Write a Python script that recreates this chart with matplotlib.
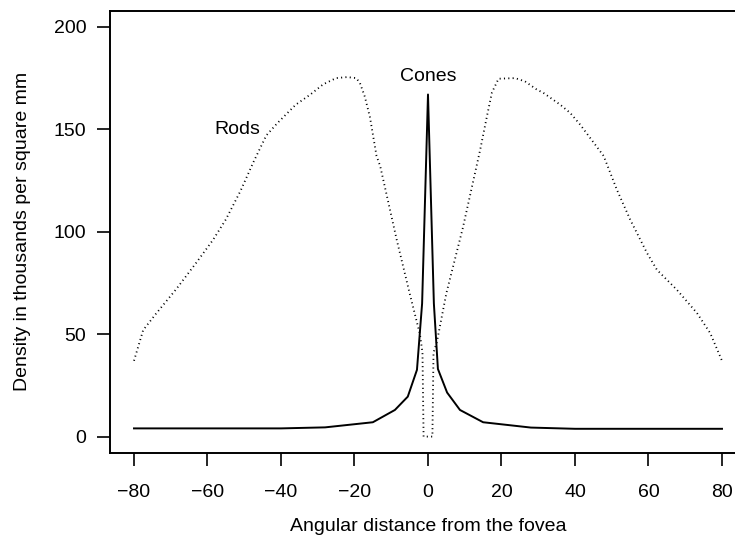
import numpy as np
import matplotlib
matplotlib.use("Agg")
import matplotlib.pyplot as plt

plt.rcParams['font.family'] = ['Liberation Sans', 'DejaVu Sans']

# rod density (thousands per square mm)
rods_x = [-80, -77.5, -74, -68.5, -63, -58.5, -55, -51, -47.5, -44, -41, -36, -32,
          -28.5, -25, -22, -19.5, -18.5, -17.2, -15.8, -14, -13, -8.5, -5, -2.2,
          -1.5, -1.2, 0, 1.2, 1.5, 2.4, 5, 9.5, 14.2, 16, 17.4, 19.2, 23.7, 26.4,
          29.6, 31.4, 36, 38.7, 41.4, 43.2, 47.8, 51.4, 55, 59.6, 62.3, 67.7,
          73.2, 76.8, 80]
rods_y = [37, 52, 60, 72, 85, 96, 106, 120, 134, 147, 153, 162, 167,
          172, 175, 175.5, 175, 172.5, 166, 156, 137, 132, 96, 70, 50,
          41, 0, 0, 0, 41, 46, 70, 102, 140, 156, 168, 174.7, 175, 173.4,
          169.4, 167.8, 162, 158, 152.3, 148, 137, 120.5, 106, 89.6, 81.4, 71.7,
          60.3, 50.5, 37]

# cone density
cones_x = [-80, -40, -28, -15, -9, -5.5, -3, -1.6, 0, 1.6, 2.7, 5.2, 8.7, 15, 28, 40, 80]
cones_y = [4, 4, 4.5, 7, 13, 19.5, 32.6, 65, 167, 65, 33, 21.5, 13, 7, 4.4, 3.8, 3.8]

fig = plt.figure(figsize=(7.35, 5.56), dpi=100)
ax = fig.add_axes([0.1503, 0.1853, 0.8640, 0.7958])

ax.plot(rods_x, rods_y, color='black', linewidth=1.3, linestyle=(0, (0.6, 1.8)))
ax.plot(cones_x, cones_y, color='black', linewidth=1.4)

ax.text(-52, 150, 'Rods', ha='center', va='center', fontsize=14)
ax.text(0, 176, 'Cones', ha='center', va='center', fontsize=14)

ax.set_xlim(-86.4, 86.4)
ax.set_ylim(-8, 208)
ax.set_xticks(np.arange(-80, 81, 20))
ax.set_yticks(np.arange(0, 201, 50))
ax.tick_params(axis='both', direction='out', length=9.5, width=1.2, labelsize=14)
ax.tick_params(axis='x', pad=13)
ax.tick_params(axis='y', pad=8)
for s in ax.spines.values():
    s.set_linewidth(1.4)

ax.set_xlabel('Angular distance from the fovea', fontsize=14, labelpad=12)
ax.set_ylabel('Density in thousands per square mm', fontsize=14, labelpad=16)

fig.savefig('out.png', dpi=100)
